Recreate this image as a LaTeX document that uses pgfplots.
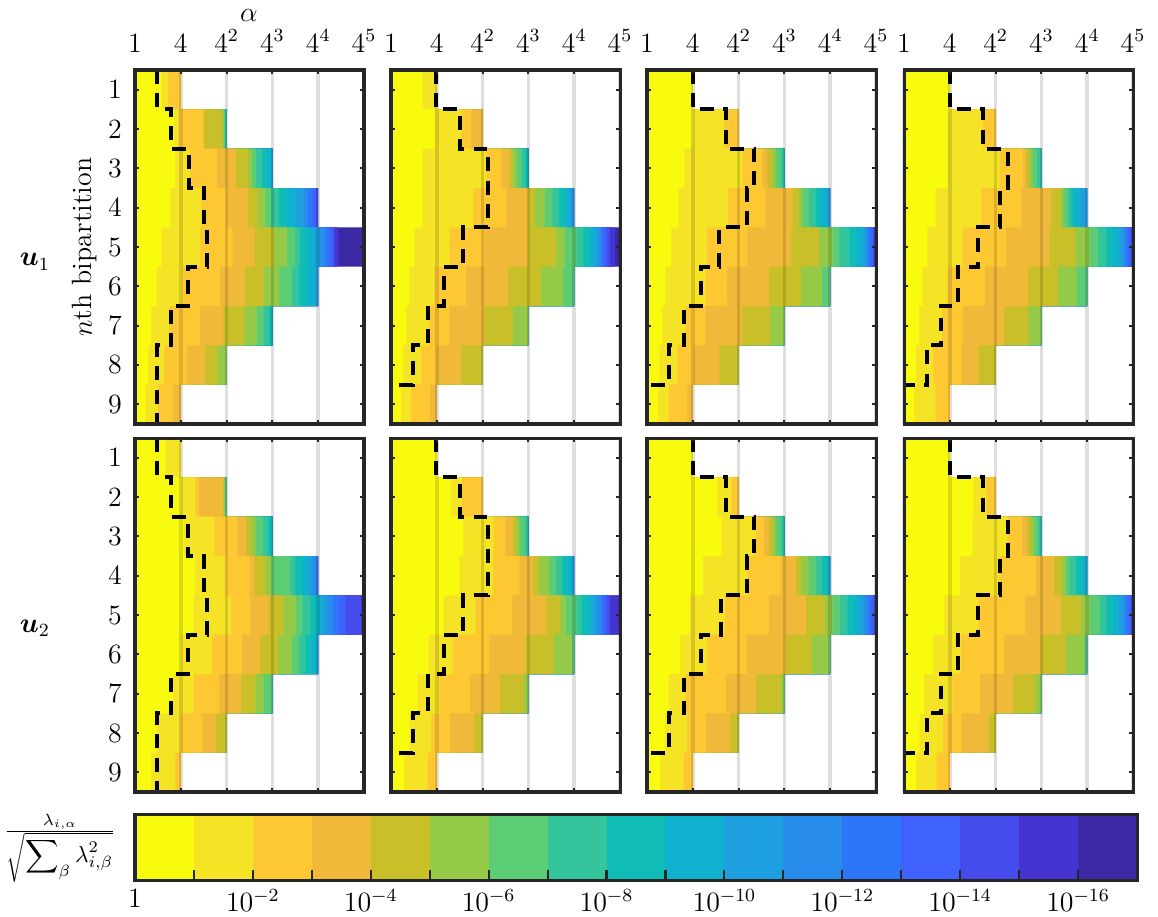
\documentclass[12pt,border=0pt]{standalone}
\usepackage{amsmath}
\usepackage{pgfplots}
\usepackage{pgfplotstable}
\pgfplotsset{compat=1.18}

\definecolor{c0}{RGB}{249,251,14}
\definecolor{c1}{RGB}{245,227,38}
\definecolor{c2}{RGB}{254,200,50}
\definecolor{c3}{RGB}{240,185,57}
\definecolor{c4}{RGB}{201,191,41}
\definecolor{c5}{RGB}{148,202,72}
\definecolor{c6}{RGB}{92,204,117}
\definecolor{c7}{RGB}{52,197,156}
\definecolor{c8}{RGB}{16,188,182}
\definecolor{c9}{RGB}{15,177,207}
\definecolor{c10}{RGB}{30,160,224}
\definecolor{c11}{RGB}{40,140,236}
\definecolor{c12}{RGB}{45,118,250}
\definecolor{c13}{RGB}{63,98,254}
\definecolor{c14}{RGB}{70,75,235}
\definecolor{c15}{RGB}{68,52,210}
\definecolor{c16}{RGB}{58,40,165}
\definecolor{framecol}{RGB}{38,38,38}

% e_k = right end (in log_4 alpha) of the cells that fall in colour bin k
\pgfplotstableread{
r e0 e1 e2 e3 e4 e5 e6 e7 e8 e9 e10 e11 e12 e13 e14 e15 e16
1  0.58 0.715 1 1 1   1 1 1 1   1 1 1 1   1 1 1 1
2  0.86 0.95 1.5 1.5 1.91   1.94 1.97 2 2   2 2 2 2   2 2 2 2
3  0.88 1.20 1.79 2.20 2.47   2.55 2.64 2.77 2.88   3 3 3 3   3 3 3 3
4  0.77 1.45 2.00 2.47 2.69   2.85 2.97 3.14 3.32   3.50 3.69 3.78 3.88   3.96 4 4 4
5  0.58 1.42 2.13 2.61 3.04   3.32 3.50 3.61 3.76   3.91 4.05 4.16 4.25   4.32 4.36 4.44 5
6  0.47 1.04 1.86 2.41 2.81   3.15 3.43 3.58 3.76   3.94 4 4 4   4 4 4 4
7  0.36 0.74 1.42 1.93 2.39   2.66 2.81 2.93 3   3 3 3 3   3 3 3 3
8  0.29 0.64 1.13 1.53 1.80   2 2 2 2   2 2 2 2   2 2 2 2
9  0.23 0.50 0.84 1 1   1 1 1 1   1 1 1 1   1 1 1 1
}\PA
\pgfplotstableread{
r e0 e1 e2 e3 e4 e5 e6 e7 e8 e9 e10 e11 e12 e13 e14 e15 e16
1  0.69 1 1 1 1   1 1 1 1   1 1 1 1   1 1 1 1
2  0.95 1.53 1.75 2 2   2 2 2 2   2 2 2 2   2 2 2 2
3  0.69 2.09 2.41 2.59 2.66   2.74 2.85 2.93 3   3 3 3 3   3 3 3 3
4  0.69 1.79 2.52 2.99 3.14   3.36 3.53 3.67 3.80   3.90 3.98 4 4   4 4 4 4
5  0.51 1.28 2.04 2.99 3.61   3.80 4.05 4.20 4.34   4.45 4.53 4.58 4.64   4.71 4.78 4.89 5
6  0.40 0.95 1.64 2.55 3.28   3.76 4 4 4   4 4 4 4   4 4 4 4
7  0.33 0.84 1.28 2.04 2.66   3 3 3 3   3 3 3 3   3 3 3 3
8  0.26 0.66 0.99 1.53 2   2 2 2 2   2 2 2 2   2 2 2 2
9  0.22 0.44 0.85 1 1   1 1 1 1   1 1 1 1   1 1 1 1
}\PB
\pgfplotstableread{
r e0 e1 e2 e3 e4 e5 e6 e7 e8 e9 e10 e11 e12 e13 e14 e15 e16
1  1 1 1 1 1   1 1 1 1   1 1 1 1   1 1 1 1
2  0.99 1.68 2 2 2   2 2 2 2   2 2 2 2   2 2 2 2
3  0.82 2.09 2.52 2.63 2.74   2.81 2.92 3 3   3 3 3 3   3 3 3 3
4  0.69 1.77 2.59 3.18 3.32   3.39 3.54 3.69 3.80   3.94 4 4 4   4 4 4 4
5  0.53 1.31 2.19 3.14 3.76   4.05 4.20 4.42 4.56   4.71 4.78 4.84 4.89   4.93 4.96 5 5
6  0.40 1.28 1.75 2.66 3.36   3.82 4 4 4   4 4 4 4   4 4 4 4
7  0.33 0.84 1.28 2.08 2.70   3 3 3 3   3 3 3 3   3 3 3 3
8  0.27 0.66 1.02 1.58 2   2 2 2 2   2 2 2 2   2 2 2 2
9  0.24 0.47 0.88 1 1   1 1 1 1   1 1 1 1   1 1 1 1
}\PC
\pgfplotstableread{
r e0 e1 e2 e3 e4 e5 e6 e7 e8 e9 e10 e11 e12 e13 e14 e15 e16
1  1 1 1 1 1   1 1 1 1   1 1 1 1   1 1 1 1
2  0.95 1.72 2 2 2   2 2 2 2   2 2 2 2   2 2 2 2
3  0.95 2.09 2.60 2.66 2.74   2.81 2.90 3 3   3 3 3 3   3 3 3 3
4  0.69 1.68 2.55 3.21 3.43   3.48 3.58 3.65 3.72   3.85 4 4 4   4 4 4 4
5  0.51 1.28 2.23 3.18 3.74   4.05 4.23 4.42 4.56   4.71 4.78 4.85 4.90   4.95 5 5 5
6  0.40 0.95 1.77 2.70 3.36   3.77 4 4 4   4 4 4 4   4 4 4 4
7  0.33 0.84 1.29 2.19 2.72   3 3 3 3   3 3 3 3   3 3 3 3
8  0.26 0.64 1.26 1.63 2   2 2 2 2   2 2 2 2   2 2 2 2
9  0.22 0.69 1 1 1   1 1 1 1   1 1 1 1   1 1 1 1
}\PD
\pgfplotstableread{
r e0 e1 e2 e3 e4 e5 e6 e7 e8 e9 e10 e11 e12 e13 e14 e15 e16
1  0.67 1 1 1 1   1 1 1 1   1 1 1 1   1 1 1 1
2  0.99 1.31 1.40 1.93 1.93   1.96 2 2 2   2 2 2 2   2 2 2 2
3  1.06 1.74 2.23 2.42 2.54   2.64 2.79 2.91 3   3 3 3 3   3 3 3 3
4  1.31 1.97 2.50 2.61 2.85   2.99 3.39 3.50 3.65   3.78 3.88 3.96 4   4 4 4 4
5  1.28 2.10 2.52 2.93 3.25   3.52 3.66 3.83 3.98   4.09 4.20 4.32 4.45   4.60 4.93 5 5
6  0.99 1.69 2.34 2.74 3.12   3.43 3.58 3.72 3.87   4 4 4 4   4 4 4 4
7  0.84 1.28 1.84 2.32 2.63   2.81 3 3 3   3 3 3 3   3 3 3 3
8  0.47 0.99 1.47 1.77 2   2 2 2 2   2 2 2 2   2 2 2 2
9  0.35 0.88 1 1 1   1 1 1 1   1 1 1 1   1 1 1 1
}\PE
\pgfplotstableread{
r e0 e1 e2 e3 e4 e5 e6 e7 e8 e9 e10 e11 e12 e13 e14 e15 e16
1  1 1 1 1 1   1 1 1 1   1 1 1 1   1 1 1 1
2  1.31 1.55 2 2 2   2 2 2 2   2 2 2 2   2 2 2 2
3  1.57 2.24 2.50 2.66 2.74   2.81 2.92 3 3   3 3 3 3   3 3 3 3
4  1.50 2.23 2.81 3.10 3.23   3.45 3.61 3.74 3.87   3.96 4 4 4   4 4 4 4
5  1.15 1.85 2.65 3.39 3.69   3.82 4.05 4.16 4.31   4.42 4.50 4.58 4.64   4.71 4.78 5 5
6  0.82 1.36 2.15 2.94 3.55   3.96 4 4 4   4 4 4 4   4 4 4 4
7  0.58 1.06 1.72 2.37 2.90   3 3 3 3   3 3 3 3   3 3 3 3
8  0.40 0.88 1.29 1.82 2   2 2 2 2   2 2 2 2   2 2 2 2
9  0.29 0.80 1 1 1   1 1 1 1   1 1 1 1   1 1 1 1
}\PF
\pgfplotstableread{
r e0 e1 e2 e3 e4 e5 e6 e7 e8 e9 e10 e11 e12 e13 e14 e15 e16
1  1 1 1 1 1   1 1 1 1   1 1 1 1   1 1 1 1
2  1.53 1.85 2 2 2   2 2 2 2   2 2 2 2   2 2 2 2
3  1.63 2.37 2.55 2.66 2.75   2.81 2.92 3 3   3 3 3 3   3 3 3 3
4  1.22 2.19 2.92 3.25 3.36   3.53 3.69 3.83 3.94   4 4 4 4   4 4 4 4
5  0.93 1.70 2.66 3.47 3.89   4.05 4.21 4.38 4.53   4.65 4.74 4.82 4.89   4.94 4.98 5 5
6  0.73 1.31 2.17 3.03 3.60   3.98 4 4 4   4 4 4 4   4 4 4 4
7  0.47 0.84 1.72 2.39 2.93   3 3 3 3   3 3 3 3   3 3 3 3
8  0.39 0.88 1.29 1.82 2   2 2 2 2   2 2 2 2   2 2 2 2
9  0.29 0.80 1 1 1   1 1 1 1   1 1 1 1   1 1 1 1
}\PG
\pgfplotstableread{
r e0 e1 e2 e3 e4 e5 e6 e7 e8 e9 e10 e11 e12 e13 e14 e15 e16
1  1 1 1 1 1   1 1 1 1   1 1 1 1   1 1 1 1
2  1.51 1.80 2 2 2   2 2 2 2   2 2 2 2   2 2 2 2
3  1.50 2.26 2.58 2.70 2.77   2.85 2.92 3 3   3 3 3 3   3 3 3 3
4  1.22 2.07 2.88 3.28 3.45   3.53 3.61 3.76 3.90   4 4 4 4   4 4 4 4
5  0.88 1.63 2.65 3.43 3.87   4.05 4.28 4.42 4.56   4.69 4.78 4.85 4.91   4.96 5 5 5
6  0.64 1.24 2.19 2.99 3.54   3.94 4 4 4   4 4 4 4   4 4 4 4
7  0.44 1.06 1.66 2.39 2.87   3 3 3 3   3 3 3 3   3 3 3 3
8  0.34 0.85 1.26 1.85 2   2 2 2 2   2 2 2 2   2 2 2 2
9  0.27 0.71 1 1 1   1 1 1 1   1 1 1 1   1 1 1 1
}\PH

\newcommand\bars[1]{%
  \pgfplotsinvokeforeach{16,15,...,0}{%
    \addplot[xbar, bar width=1, bar shift=0pt, draw=none, fill=c##1]
      table[x=e##1, y=r]{#1};}}

\pgfplotsset{
  panel/.style={anchor=north west, width=98.47pt, height=152.22pt,
    scale only axis, xmin=0, xmax=5, ymin=0.5, ymax=9.5, y dir=reverse,
    xtick={0,1,2,3,4,5}, ytick={1,2,3,4,5,6,7,8,9}, xticklabels={},
    tick align=inside, xtick pos=both, ytick pos=both,
    major tick length=1.9pt,
    every tick/.style={framecol, line width=0.9pt},
    axis line style={framecol, line width=1.3pt},
    xmajorgrids, major x grid style={black, line width=1.5pt, opacity=0.13},
    axis on top, yticklabel shift=1.5pt},
  toplab/.style={xticklabel pos=upper,
    xticklabels={$1$,$4$,$4^2$,$4^3$,$4^4$,$4^5$}, xticklabel shift=3.5pt},
  noylab/.style={yticklabels={}},
  thr/.style={black, line width=1.7pt, dash pattern=on 6pt off 4pt},
}

\begin{document}
\begin{tikzpicture}
\path[use as bounding box] (0,0) rectangle (497.94pt,-393.88pt);

% ---- row u1 ----
\begin{axis}[panel, toplab, at={(58.05pt,-30.1pt)}]
\bars{\PA}
\addplot[thr] coordinates {(0.49,0.5) (0.49,1.5) (0.78,1.5) (0.78,2.5) (1.17,2.5) (1.17,3.5) (1.5,3.5) (1.5,4.5) (1.57,4.5) (1.57,5.5) (1.15,5.5) (1.15,6.5) (0.78,6.5) (0.78,7.5) (0.49,7.5) (0.49,9.5)};
\end{axis}
\begin{axis}[panel, toplab, noylab, at={(168.13pt,-30.1pt)}]
\bars{\PB}
\addplot[thr] coordinates {(0.98,0.5) (0.98,1.5) (1.5,1.5) (1.5,2.5) (2.12,2.5) (2.12,4.5) (1.58,4.5) (1.58,5.5) (1.15,5.5) (1.15,6.5) (0.8,6.5) (0.8,7.5) (0.47,7.5) (0.47,8.5) (0,8.5) (0,9.5)};
\end{axis}
\begin{axis}[panel, toplab, noylab, at={(278.21pt,-30.1pt)}]
\bars{\PC}
\addplot[thr] coordinates {(1.0,0.5) (1.0,1.5) (1.73,1.5) (1.73,2.5) (2.34,2.5) (2.34,3.5) (2.19,3.5) (2.19,4.5) (1.58,4.5) (1.58,5.5) (1.17,5.5) (1.17,6.5) (0.8,6.5) (0.8,7.5) (0.47,7.5) (0.47,8.5) (0,8.5) (0,9.5)};
\end{axis}
\begin{axis}[panel, toplab, noylab, at={(388.72pt,-30.1pt)}]
\bars{\PD}
\addplot[thr] coordinates {(1.0,0.5) (1.0,1.5) (1.73,1.5) (1.73,2.5) (2.26,2.5) (2.26,3.5) (2.1,3.5) (2.1,4.5) (1.61,4.5) (1.61,5.5) (1.17,5.5) (1.17,6.5) (0.8,6.5) (0.8,7.5) (0.5,7.5) (0.5,8.5) (0,8.5) (0,9.5)};
\end{axis}

% ---- row u2 ----
\begin{axis}[panel, at={(58.05pt,-188.34pt)}]
\bars{\PE}
\addplot[thr] coordinates {(0.49,0.5) (0.49,1.5) (0.78,1.5) (0.78,2.5) (1.15,2.5) (1.15,3.5) (1.5,3.5) (1.5,4.5) (1.57,4.5) (1.57,5.5) (1.15,5.5) (1.15,6.5) (0.78,6.5) (0.78,7.5) (0.49,7.5) (0.49,9.5)};
\end{axis}
\begin{axis}[panel, noylab, at={(168.13pt,-188.34pt)}]
\bars{\PF}
\addplot[thr] coordinates {(0.98,0.5) (0.98,1.5) (1.5,1.5) (1.5,2.5) (2.12,2.5) (2.12,4.5) (1.58,4.5) (1.58,5.5) (1.15,5.5) (1.15,6.5) (0.8,6.5) (0.8,7.5) (0.47,7.5) (0.47,8.5) (0,8.5) (0,9.5)};
\end{axis}
\begin{axis}[panel, noylab, at={(278.21pt,-188.34pt)}]
\bars{\PG}
\addplot[thr] coordinates {(1.0,0.5) (1.0,1.5) (1.73,1.5) (1.73,2.5) (2.34,2.5) (2.34,3.5) (2.19,3.5) (2.19,4.5) (1.61,4.5) (1.61,5.5) (1.17,5.5) (1.17,6.5) (0.8,6.5) (0.8,7.5) (0.47,7.5) (0.47,8.5) (0,8.5) (0,9.5)};
\end{axis}
\begin{axis}[panel, noylab, at={(388.72pt,-188.34pt)}]
\bars{\PH}
\addplot[thr] coordinates {(1.0,0.5) (1.0,1.5) (1.73,1.5) (1.73,2.5) (2.26,2.5) (2.26,3.5) (2.1,3.5) (2.1,4.5) (1.61,4.5) (1.61,5.5) (1.17,5.5) (1.17,6.5) (0.8,6.5) (0.8,7.5) (0.5,7.5) (0.5,8.5) (0,8.5) (0,9.5)};
\end{axis}

% ---- colour bar ----
\begin{axis}[at={(58.05pt,-350.02pt)}, anchor=north west, width=430.86pt, height=28.38pt,
  scale only axis, xmin=0, xmax=17, ymin=0, ymax=1,
  xtick={0,1,2,3,4,5,6,7,8,9,10,11,12,13,14,15,16},
  xticklabels={$1$,,$10^{-2}$,,$10^{-4}$,,$10^{-6}$,,$10^{-8}$,,$10^{-10}$,,$10^{-12}$,,$10^{-14}$,,$10^{-16}$},
  ytick=\empty, xtick pos=lower, tick align=inside, major tick length=4.3pt,
  every tick/.style={framecol, line width=0.9pt},
  axis line style={framecol, line width=1.3pt}, axis on top]
\pgfplotsinvokeforeach{0,...,16}{%
  \addplot[ybar, bar width=1, bar shift=0pt, draw=none, fill=c#1] coordinates {(#1.5,1)};}
\end{axis}

% ---- labels ----
\node at (107.07pt,-6.5pt) {$\alpha$};
\node[rotate=90] at (36.55pt,-106.21pt) {$n$th bipartition};
\node at (15.05pt,-112.6pt) {$\boldsymbol{u}_1$};
\node at (15.05pt,-270pt) {$\boldsymbol{u}_2$};
\node[font=\footnotesize] at (25.8pt,-364.6pt) {$\frac{\lambda_{i,\alpha}}{\sqrt{\displaystyle\sum\nolimits_{\beta}\lambda_{i,\beta}^{2}}}$};
\end{tikzpicture}
\end{document}
